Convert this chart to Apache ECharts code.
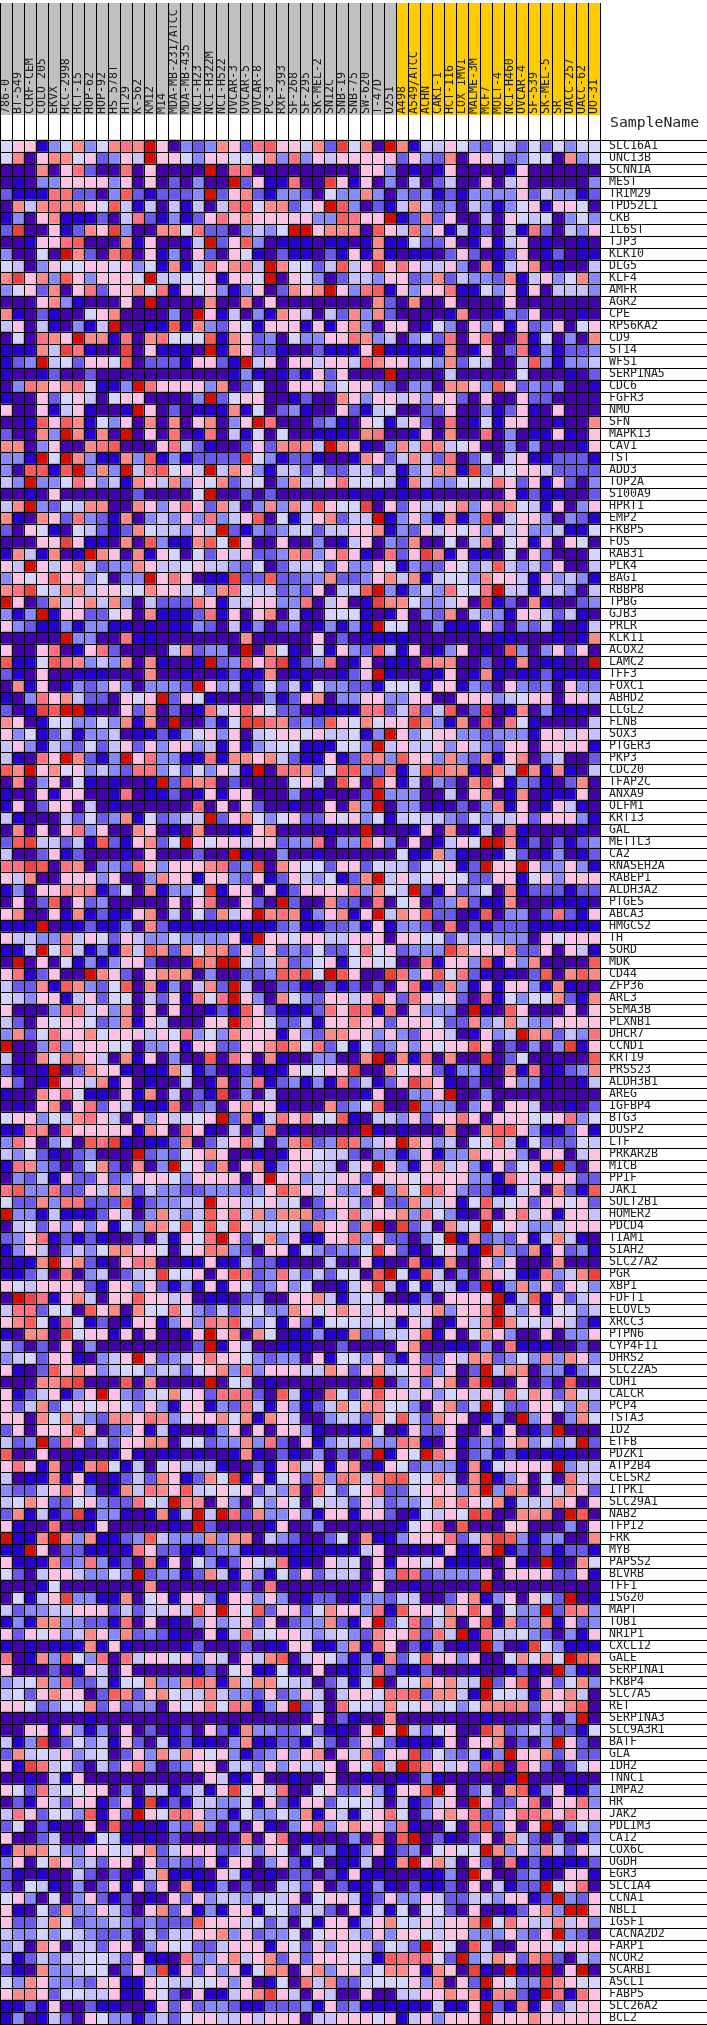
<!DOCTYPE html>
<html>
<head>
<meta charset="utf-8">
<title>Heat map</title>
<style>
  html, body { margin: 0; padding: 0; background: #fff; overflow: hidden; }
  #chart { width: 707px; height: 2025px; }
</style>
<script src="https://cdn.jsdelivr.net/npm/echarts@6/dist/echarts.min.js"></script>
</head>
<body>
<div id="chart"></div>
<script>
const grayClassSamples = ['786-0', 'BT-549', 'CCRF-CEM', 'COLO 205', 'EKVX', 'HCC-2998', 'HCT-15', 'HOP-62', 'HOP-92', 'HS 578T', 'HT29', 'K-562', 'KM12', 'M14', 'MDA-MB-231/ATCC', 'MDA-MB-435', 'NCI-H23', 'NCI-H322M', 'NCI-H522', 'OVCAR-3', 'OVCAR-5', 'OVCAR-8', 'PC-3', 'RXF-393', 'SF-268', 'SF-295', 'SK-MEL-2', 'SN12C', 'SNB-19', 'SNB-75', 'SW-620', 'T-47D', 'U251'];
const yellowClassSamples = ['A498', 'A549/ATCC', 'ACHN', 'CAKI-1', 'HCT-116', 'LOX IMVI', 'MALME-3M', 'MCF7', 'MOLT-4', 'NCI-H460', 'OVCAR-4', 'SF-539', 'SK-MEL-5', 'SR', 'UACC-257', 'UACC-62', 'UO-31'];

const genes = ['SLC16A1', 'UNC13B', 'SCNN1A', 'MEST', 'TRIM29', 'TPD52L1', 'CKB', 'IL6ST', 'TJP3', 'KLK10', 'DLG5', 'KLF4', 'AMFR', 'AGR2', 'CPE', 'RPS6KA2', 'CD9', 'ST14', 'WFS1', 'SERPINA5', 'CDC6', 'FGFR3', 'NMU', 'SFN', 'MAPK13', 'CAV1', 'TST', 'ADD3', 'TOP2A', 'S100A9', 'HPRT1', 'EMP2', 'FKBP5', 'FOS', 'RAB31', 'PLK4', 'BAG1', 'RBBP8', 'TPBG', 'GJB3', 'PRLR', 'KLK11', 'ACOX2', 'LAMC2', 'TFF3', 'FOXC1', 'ABHD2', 'LLGL2', 'FLNB', 'SOX3', 'PTGER3', 'PKP3', 'CDC20', 'TFAP2C', 'ANXA9', 'OLFM1', 'KRT13', 'GAL', 'METTL3', 'CA2', 'RNASEH2A', 'RABEP1', 'ALDH3A2', 'PTGES', 'ABCA3', 'HMGCS2', 'TH', 'SORD', 'MDK', 'CD44', 'ZFP36', 'ARL3', 'SEMA3B', 'PLXNB1', 'DHCR7', 'CCND1', 'KRT19', 'PRSS23', 'ALDH3B1', 'AREG', 'IGFBP4', 'BTG3', 'DUSP2', 'LTF', 'PRKAR2B', 'MICB', 'PPIF', 'JAK1', 'SULT2B1', 'HOMER2', 'PDCD4', 'TIAM1', 'SIAH2', 'SLC27A2', 'PGR', 'XBP1', 'FDFT1', 'ELOVL5', 'XRCC3', 'PTPN6', 'CYP4F11', 'DHRS2', 'SLC22A5', 'CDH1', 'CALCR', 'PCP4', 'TSTA3', 'ID2', 'ETFB', 'PDZK1', 'ATP2B4', 'CELSR2', 'ITPK1', 'SLC29A1', 'NAB2', 'TFPI2', 'FRK', 'MYB', 'PAPSS2', 'BLVRB', 'TFF1', 'ISG20', 'MAPT', 'TOB1', 'NRIP1', 'CXCL12', 'GALE', 'SERPINA1', 'FKBP4', 'SLC7A5', 'RET', 'SERPINA3', 'SLC9A3R1', 'BATF', 'GLA', 'IDH2', 'TNNC1', 'IMPA2', 'HR', 'JAK2', 'PDLIM3', 'CA12', 'COX6C', 'UGDH', 'EGR3', 'SLC1A4', 'CCNA1', 'NBL1', 'IGSF1', 'CACNA2D2', 'FARP1', 'NCOR2', 'SCARB1', 'ASCL1', 'FABP5', 'SLC26A2', 'BCL2'];

// one hex digit per cell, 0 = deepest blue .. b = deepest red, one string per gene
const levelRows = [
  '5661357357 87b6032376 28966572a5 70b7154653 2542525355',
  '5706775623 64b6653665 5573836466 6662632706 6423550735',
  '0007068200 8060000b08 8000000000 6630101600 0016000000',
  '0103366663 606020300b 2611800a61 6030402400 6046000003',
  '2111882203 9212223b26 7213320533 7303231213 3336243312',
  '0747877659 4140414048 9577246b93 0214742304 3135616650',
  '1306711120 4821312686 7666663398 66b1272600 4065450353',
  '2a0061276a 3007758220 3435bb6777 0964836141 2041820436',
  '0016689000 7160014b26 9301110110 1711522601 6146010010',
  '30050b7208 a061306206 5102110216 1710110262 0126012011',
  '5403655665 6351714867 84b7552494 6a68644630 7146701004',
  '7a67396366 65b4455616 65b0653024 4366237243 3271463573',
  '3562706826 6758165631 3602767b63 8916366811 5361604443',
  '0006731000 60b0000700 7060000000 0720700600 0060000000',
  '7102100567 000030b614 0317640427 3720000170 0132600010',
  '460410314b 0011917326 5166616167 3066015306 3616236056',
  '050876b771 8078555917 6230533668 7340352806 8008150307',
  '11174a8100 a061110b17 6221002111 6b11111701 6028131223',
  '123b452665 9022216621 b460664664 9766353725 4004931334',
  '1001200200 0000000001 3101216260 00b0000400 0005000102',
  '0387678511 3b86666370 2500666356 6320330776 3962323001',
  '1006256405 6600003b25 6600120076 3664636620 6006220000',
  '6006146100 1b60201117 1502310062 1450022600 3126106000',
  '0019697153 6070706703 6b80002310 6514620801 5166001007',
  '20073b7170 b060801804 1505001110 7800160700 8030116106',
  '7703600789 0006842100 2627874b76 1037487456 0030300016',
  '331b5b7311 7391312222 a531221001 7624742802 5046112221',
  '309919b373 b489564b47 6314424224 424134771a 3556642222',
  '43b3358634 1764736572 4503744685 5541743355 5862616203',
  '0010600000 0200005b00 2020000001 0101010000 0061211002',
  '47b3254770 0763686274 0373749655 a062644673 6875416036',
  '7107628321 7034363834 6905146724 4b13631713 9046630321',
  '2065105421 27544364b2 1323452446 6713264656 3646334115',
  '00066a6110 709311795b 6006003014 6032700504 7056160650',
  '1741701b76 0716505264 6223783686 10826a7161 1050620005',
  '64b6467423 3764456443 2502445263 3651322653 4943426004',
  '3656966350 33b686011a 2292233722 3674714553 7664163431',
  '78a5477466 5576645378 5442326044 9b31343855 8b44144304',
  'b602746747 3042228614 4663380460 1a77533460 a120710023',
  '313b166225 6071112816 0670410555 1016032704 3316642410',
  '6321131331 1010113204 1302301313 1b55003111 6203241014',
  '00000b3300 8110000000 7000006020 1111000000 0110001017',
  '6006801682 0000472330 b075105163 2941601360 1093036260',
  '9115987343 7071001b23 968a123801 6011087700 201701100b',
  '2106001110 0070010012 1170110012 6b10011601 7101121111',
  '0716013236 303332b634 1252415332 2155516613 2063230633',
  '1038674220 656b265100 0031267033 6633660066 6345660664',
  '201a9bb100 6270201846 9652201111 8824824902 a017031110',
  '7601553353 7170b00315 aa87232965 7566a73170 9085100004',
  '6351241334 0112135636 0456656445 13b6356633 2333166464',
  '4631432524 6263663416 1345511155 3b46446364 3266066661',
  '41086b7213 b683311817 7674211612 8739663732 7167034002',
  '97b6756343 2883525364 1b08873599 3281499771 074b717104',
  '0703605101 001b297802 0000564096 0a61403207 a613210270',
  '1006166001 8011201616 6000301000 2b33300406 7017011160',
  '1602660401 0000008060 6200100607 3b03301020 3716016410',
  '4100042523 7152344b26 7535622656 3514544325 3446266631',
  '0706068360 0760107001 1670000100 b000160701 4081000010',
  '29a4424192 16725b6566 4662338033 9630601465 bb71202123',
  '4002612000 106000200b 1003001000 0005117310 0152013012',
  '88a9087033 2863666782 3a07655266 2544255612 b66b633631',
  '6470066636 0037661663 2612643512 7b46456552 2661563666',
  '1306677712 5071335a16 6061266668 3754b21623 5071222122',
  '0602906230 0000606800 620b200722 0805602372 1170001110',
  '6700617121 1670405274 6b78713671 6b47692201 9033028216',
  '111b011211 3072111111 1112311223 1613320802 1222111111',
  '6443374652 6433533336 1b66566446 6606655243 4333065666',
  '114b584131 7497275772 6362325225 8562333a76 6672260641',
  '0b06051313 66200097bb 5347235615 6550081663 9163700009',
  '6812600b76 2067770300 22398a5b96 00a8369582 1010290797',
  '4227197325 907130472b 4002210212 0206812731 6166317100',
  '5436614625 504261858b 6307532664 6962865620 8153557217',
  '6000388463 7060600121 9621112869 818063330b 1096000606',
  '4206566523 716400066b 7652241667 6626665227 3474336666',
  '3725866756 6646583537 6661632776 6363266401 634b772438',
  'b003836665 5033616622 6679758251 5236365669 6020303a16',
  '4007587640 7160300908 6071003300 7b07180700 a025000009',
  '2101b02766 1011741201 211165566a 0075662133 1071801237',
  '6201b66471 6010040170 3812313182 4126a76102 0063310014',
  '1007685110 61704021a0 3040000000 1600336b00 3000000000',
  '0106706826 4111802306 7661000723 5900b33303 6066400102',
  '5663547864 06364556b2 7148685591 0443626686 0666556835',
  '1187086666 6176086104 0380100000 b101000700 7996311261',
  '386035098a 1011270246 8403792398 346b763405 5841522254',
  '4352102300 0b23256760 0101665442 0331361337 6663066046',
  '1873202572 0703b56270 6713664404 6b63167463 162561b206',
  '0324162262 3666536666 06b6634466 2666566663 3186466622',
  '8933822647 4243322333 2369764633 6b37598632 2114607219',
  '5227388222 9123344b66 4564502664 2622744615 9456266562',
  'b331411126 4037434968 4737772368 4667385310 8068461664',
  '0452636361 5377595959 6445527662 7b0a240745 b564334666',
  '2368121210 02041658b6 2573611668 3622035b17 2326147410',
  '1364034357 7665056873 2066153233 5a62105631 b732716231',
  '0117b67210 6870011611 4221000400 6100811700 6360007000',
  '1124080340 245a556069 8238424255 09b5194030 765118347a',
  '6546666216 6362131616 5236350014 6a41514412 b137362653',
  '0ba8167406 6966460110 2300667414 5400130666 6b14916246',
  '4882550967 0755853242 4533765676 4666467366 7b43615534',
  '6795185120 1661363879 5351621555 4541640164 7b75546421',
  '10770a5661 6060016b67 0750113117 2344691605 7630060336',
  '4202060300 0000002b16 4001110020 0006700110 3081110020',
  '3452661034 6b62346866 5323306155 3621622647 7235373763',
  '6102967634 5534425673 8366644762 6745683602 b477033135',
  '000779a000 9070000b05 4010000000 0b03626708 b006020900',
  '61246136b6 3245756288 8209410852 6966463564 6485762754',
  '6247256566 5363166132 8416312475 7755306724 b522665373',
  '6607574327 7687356675 7176400344 2759427660 130b360375',
  '2606669602 3614100136 0606631001 1501622600 616012b000',
  '423b286242 6677055233 7382061344 7338710612 32673534b2',
  '9006001001 6101101001 7102103020 2b165b8602 3121011100',
  '6861701795 1405644410 0216746167 0165233317 156666b344',
  '4011716101 242761275a 1615627387 4799557407 b136050844',
  '3224686301 7487694565 6243708525 6822566637 b387064762',
  '4576225632 2854b77063 0536505442 6423357686 5714447606',
  '271412a133 101714b4b8 2733631661 662015465a 9007770b90',
  '6100800160 000010b200 0016003000 0001568090 0066000306',
  'b117b73711 2394333737 7043200250 7113666824 7a93133007',
  '11b6022110 1862211233 1101111111 4600101611 7b12021221',
  '6111723831 2071605312 6548110645 0616656111 00610b1075',
  '5204664335 3b23312741 6315262444 0639823333 6066662261',
  '0001500000 0070000000 2080000000 0600100000 b000000000',
  '05146a3311 7056166316 6363012201 3324400267 1360642b01',
  '4233446662 42446496b6 5926625766 3819665769 60533b2873',
  '1317733221 8060103634 6260233721 6b25824706 a172371623',
  '6265634763 7232100614 8456643453 27668284b1 8445320316',
  '1010111716 1000012000 2011661137 1860213010 b301a53111',
  '8017395380 8466563640 6479046531 3172596636 0057575b97',
  '6000201640 6000001205 6115106011 3821120001 001210b310',
  '3457382241 5573379717 4775440241 5b05576744 b269062573',
  '4526766029 7267544743 3262364046 6588927741 b554176740',
  '6652355726 2330656758 7136b24085 5475564535 7787266790',
  '0000000100 0000000000 0000006021 0070000000 10000303b0',
  '0066163130 6020120621 7332252110 6b6b425600 a723432215',
  '413a025341 6204121103 7112214202 6421111606 670203b620',
  '2745463450 2637476563 1236367064 7266a25324 13b6672622',
  '61a8452042 6830236604 4363644606 594ba76463 8a08620256',
  '0010416000 0000000641 1600100600 1001031000 001b000100',
  '6528455660 304413416a 5648005622 631669b602 4079136113',
  '0216426612 61a1214433 5162166255 540412460b 6226806683',
  '4862553916 2b65886331 5335371641 5685036768 2368876866',
  '2502100609 0101327303 0610368367 6638100508 a2606b0353',
  '6002400154 1010200000 7068010003 0809b02102 6074203013',
  '1777533665 4672466622 4365042311 3612305655 b736374265',
  '3605763426 6062322616 6036215011 4017b67406 2081211112',
  '2101004202 0147111064 1010220216 110001130b 6002310661',
  '2054103026 1626071130 2004426021 1310211206 04122b5680',
  '5630503621 2010626344 3444605664 1263364224 436612b326',
  '6105273364 2067261316 6155244206 1415055206 0012673bb6',
  '6224752334 3232229666 4524051661 4675464667 b586447463',
  '4335354322 3042446673 6233505664 3636654663 336326b320',
  '3407604426 6036552246 6616526366 62542b6509 4006665666',
  '4124344554 2611083367 4672626665 41988852b3 4762792043',
  '2107334550 263a162636 1577067366 357761760a 10b10b06b0',
  '5376333266 1165445563 6015084722 5555637062 b6533a7655',
  '6776255446 1165206114 67a6406400 6004466767 17721b8186',
  '1121600211 0016262332 1122231623 1111114116 b217162466',
  '1301420653 3134256644 6466604466 6561463666 b666766666'
];

const LEVEL_COLORS = ['#4500AD', '#2700D1', '#6B58EF', '#8888FF', '#C7C1FF', '#D5D5FF', '#FFC0E5', '#FF8989', '#FF7080', '#FF5A5A', '#EF4040', '#D60C00'];
const MONO = '"DejaVu Sans Mono", monospace';
const HEADER_SPAN = 137;
const HEADER_FILL = 112;

const samples = grayClassSamples.concat(yellowClassSamples);

function buildCells() {
  const cells = [];
  levelRows.forEach((row, y) => {
    row.replace(/ /g, '').split('').forEach((digit, x) => {
      cells.push([x, y, parseInt(digit, 16)]);
    });
  });
  return cells;
}

function buildHeaderBars() {
  return samples.map((name, i) => ({
    value: HEADER_FILL,
    itemStyle: { color: i < grayClassSamples.length ? '#C0C0C0' : '#FFCC00' }
  }));
}

const chart = echarts.init(document.getElementById('chart'), null, { renderer: 'canvas' });

const blackLine = { color: '#000', width: 1 };

chart.setOption({
  animation: false,
  backgroundColor: '#fff',
  title: {
    text: 'SampleName',
    left: 610,
    top: 116,
    padding: 0,
    textStyle: { fontFamily: MONO, fontSize: 14.8, fontWeight: 'normal', color: '#222' }
  },
  grid: [
    { left: 0, top: 140, width: 600, height: 1884 },
    { left: 0, top: 3, width: 600, height: HEADER_SPAN }
  ],
  xAxis: [
    {
      gridIndex: 0,
      type: 'category',
      data: samples,
      z: 5,
      axisLine: { show: false },
      axisTick: { show: false },
      axisLabel: { show: false },
      splitLine: { show: true, interval: 0, lineStyle: blackLine }
    },
    {
      gridIndex: 1,
      type: 'category',
      data: samples,
      z: 5,
      axisLine: { show: false, onZero: false },
      axisTick: { show: false },
      axisLabel: { show: false },
      splitLine: { show: true, interval: 0, lineStyle: blackLine }
    }
  ],
  yAxis: [
    {
      gridIndex: 0,
      type: 'category',
      data: genes,
      inverse: true,
      position: 'right',
      z: 5,
      axisLine: { show: false },
      axisTick: { show: true, interval: 0, length: 107, lineStyle: blackLine },
      axisLabel: {
        interval: 0,
        margin: 9,
        fontFamily: MONO,
        fontSize: 11.6,
        color: '#222',
        padding: [14, 0, 0, 0]
      },
      splitLine: { show: true, interval: 0, lineStyle: blackLine }
    },
    {
      gridIndex: 1,
      type: 'value',
      inverse: true,
      min: 0,
      max: HEADER_SPAN,
      show: false
    }
  ],
  visualMap: {
    type: 'piecewise',
    show: false,
    seriesIndex: 0,
    dimension: 2,
    pieces: LEVEL_COLORS.map((color, value) => ({ value, color }))
  },
  series: [
    {
      type: 'heatmap',
      xAxisIndex: 0,
      yAxisIndex: 0,
      data: buildCells(),
      progressive: 0,
      itemStyle: { borderWidth: 0 },
      emphasis: { disabled: true }
    },
    {
      type: 'bar',
      xAxisIndex: 1,
      yAxisIndex: 1,
      barWidth: '100%',
      data: buildHeaderBars(),
      silent: true,
      label: {
        show: true,
        position: 'insideBottom',
        rotate: 90,
        align: 'left',
        verticalAlign: 'middle',
        distance: 1,
        padding: [5, 0, 0, 0],
        fontFamily: MONO,
        fontSize: 11.6,
        color: '#222',
        formatter: (p) => p.name
      }
    }
  ]
});
</script>
</body>
</html>
